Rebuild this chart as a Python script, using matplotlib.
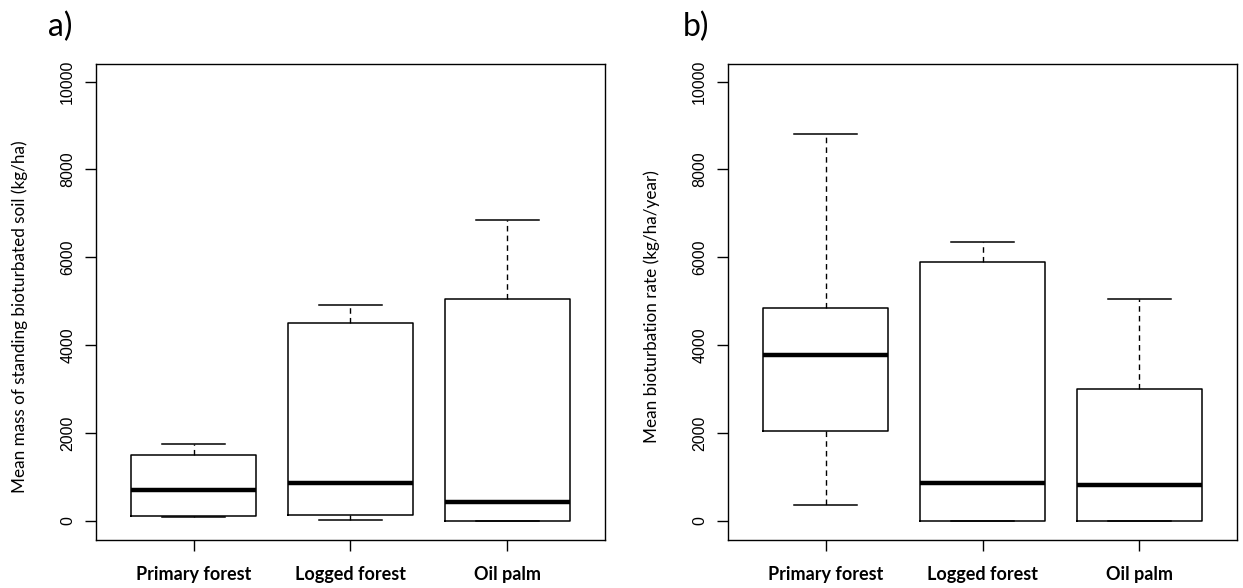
import matplotlib.pyplot as plt

# values
categories = ["Primary forest", "Logged forest", "Oil palm"]

mass_low = [91, 15, 0]
mass_q1 = [123, 145, 0]
mass_med = [700, 863, 440]
mass_q3 = [1502, 4512, 5045]
mass_high = [1753, 4912, 6858]

rate_low = [360, 0, 0]
rate_q1 = [2045, 0, 0]
rate_med = [3785, 861, 828]
rate_q3 = [4855, 5898, 2995]
rate_high = [8805, 6360, 5062]

yticks = [0, 2000, 4000, 6000, 8000, 10000]

label_font = "Lato"
tick_font = "Liberation Sans"


def make_stats(lo, q1, med, q3, hi):
    out = []
    for c, a, b, m, d, e in zip(categories, lo, q1, med, q3, hi):
        out.append(dict(label=c, whislo=a, q1=b, med=m, q3=d, whishi=e, fliers=[]))
    return out


def draw_panel(ax, stats, ylabel, ylab_y):
    ax.bxp(stats, positions=[1, 2, 3], widths=0.8, capwidths=0.4,
           showfliers=False,
           boxprops=dict(color="black", lw=1.1),
           medianprops=dict(color="black", lw=3.2, solid_capstyle="butt"),
           whiskerprops=dict(color="black", lw=1.0, linestyle=(0, (4, 3))),
           capprops=dict(color="black", lw=1.1))
    ax.set_xlim(0.378, 3.622)
    ax.set_ylim(-432, 10398)
    ax.set_yticks(yticks)
    ax.set_yticklabels([str(v) for v in yticks], family=tick_font, fontsize=11.5)
    for t in ax.get_yticklabels():
        t.set_rotation(90)
        t.set_va("center")
        t.set_ha("right")
    ax.set_xticks([1, 2, 3])
    ax.set_xticklabels(categories, family=label_font, fontweight="bold", fontsize=13)
    ax.tick_params(axis="both", direction="out", length=8, width=1.0, color="black")
    ax.tick_params(axis="y", pad=7)
    ax.tick_params(axis="x", pad=11)
    for s in ax.spines.values():
        s.set_linewidth(1.0)
    ax.set_ylabel(ylabel, family=label_font, fontsize=12.3)
    ax.yaxis.set_label_coords(-0.133, ylab_y)


fig = plt.figure(figsize=(12.43, 5.88), dpi=100)
ax1 = fig.add_axes([0.0772, 0.0816, 0.4095, 0.8095])
ax2 = fig.add_axes([0.5857, 0.0816, 0.4095, 0.8095])

draw_panel(ax1, make_stats(mass_low, mass_q1, mass_med, mass_q3, mass_high),
           "Mean mass of standing bioturbated soil (kg/ha)", 0.47)
draw_panel(ax2, make_stats(rate_low, rate_q1, rate_med, rate_q3, rate_high),
           "Mean bioturbation rate (kg/ha/year)", 0.49)

fig.text(48 / 1243, 1 - 27 / 588, "a)", family=label_font, fontsize=23, va="center", ha="left")
fig.text(683 / 1243, 1 - 27 / 588, "b)", family=label_font, fontsize=23, va="center", ha="left")

fig.savefig("out.png", dpi=100)
